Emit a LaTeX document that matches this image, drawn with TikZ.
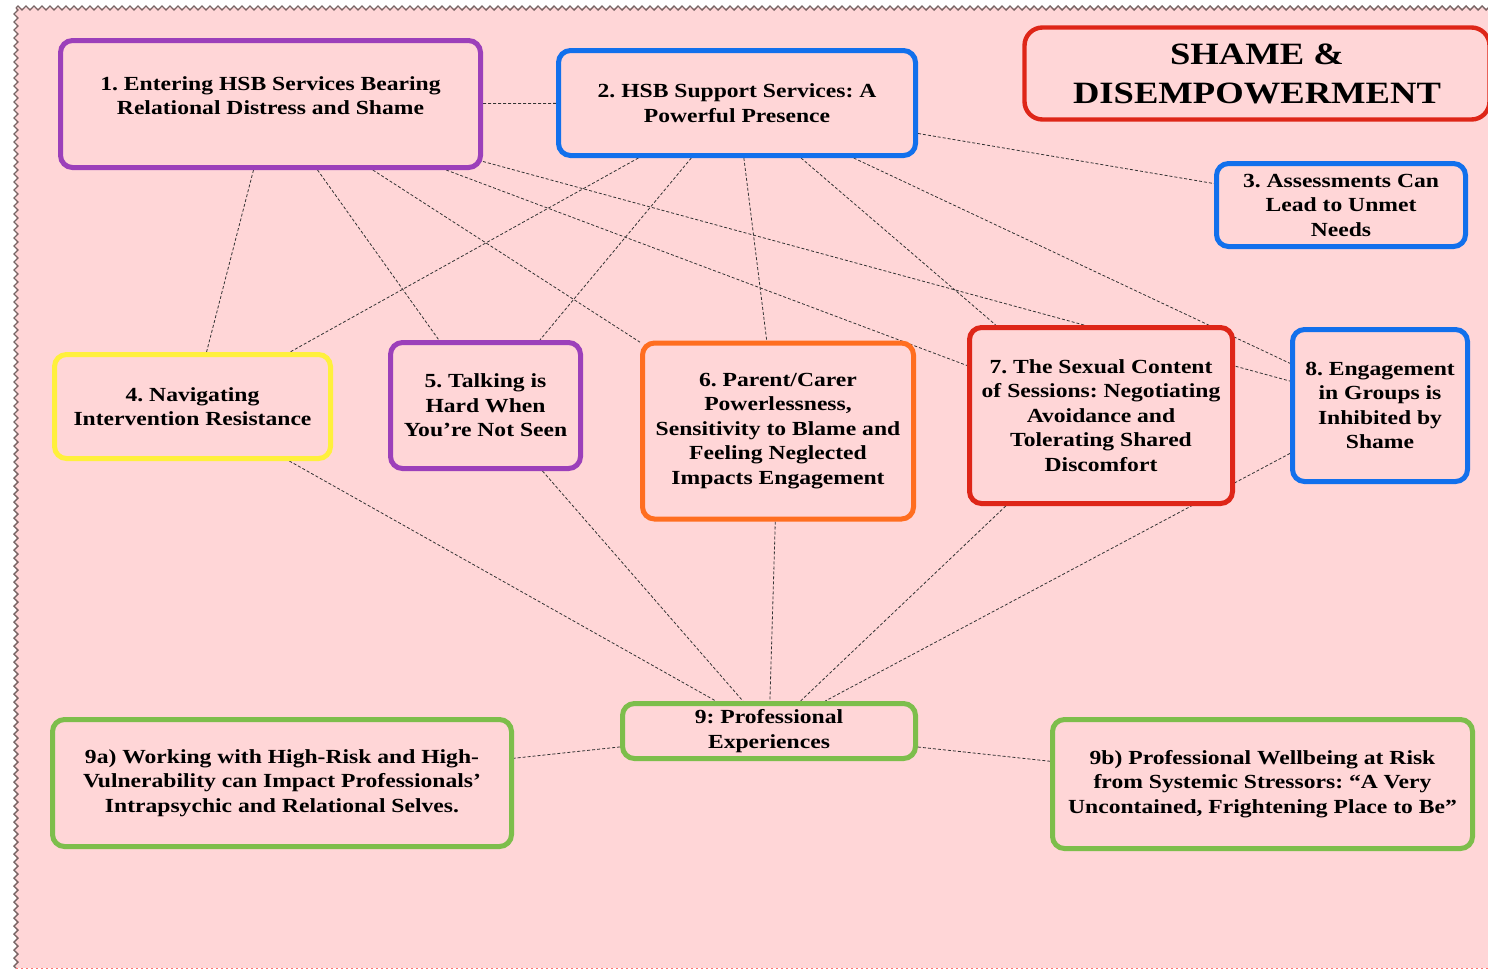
\documentclass[tikz,border=0pt]{standalone}
\usepackage{fontspec}
\setmainfont{Liberation Serif}[FakeStretch=1.18]
\frenchspacing
\usetikzlibrary{decorations.pathmorphing}
\definecolor{bgpink}{RGB}{255,214,215}
\definecolor{thpurple}{RGB}{156,64,186}
\definecolor{thblue}{RGB}{18,112,236}
\definecolor{thyellow}{RGB}{255,240,60}
\definecolor{thorange}{RGB}{255,110,32}
\definecolor{thred}{RGB}{222,38,24}
\definecolor{thgreen}{RGB}{125,190,75}
\definecolor{rimgray}{RGB}{120,100,100}
\pgfdeclarelayer{back}
\pgfdeclarelayer{links}
\pgfsetlayers{back,links,main}
\tikzset{box/.style = {draw, line width=2.5pt, rounded corners=6pt, fill=bgpink, align=center, inner sep=2pt,
                       font=\fontsize{10pt}{12.25pt}\selectfont\bfseries},
         link/.style = {black!80, line width=0.4pt, dash pattern=on 1.5pt off 1pt},
         rim/.style = {rimgray, line width=0.7pt, decorate, decoration={zigzag, amplitude=1pt, segment length=4pt}}}

\begin{document}
\begin{tikzpicture}[x=0.5pt, y=-0.5pt]
  \useasboundingbox (0,0) rectangle (1488,970);
  \begin{pgfonlayer}{back}
    \fill[bgpink] (16,8) rectangle (1500,968);
    \draw[rim] (16,8) -- (1500,8);
    \draw[rim] (16,8) -- (16,968);
    \draw[red!55, line width=0.5pt, dash pattern=on 1pt off 1.5pt] (16,968) -- (1500,968);
  \end{pgfonlayer}

  \node[box, draw=thpurple, minimum width=210pt, minimum height=63.5pt] (th1) at (270.5,104)
    {1. Entering HSB Services Bearing\\ Relational Distress and Shame\\[-4pt]\mbox{}};
  \node[box, draw=thblue, minimum width=178.5pt, minimum height=52.5pt] (th2) at (737,103)
    {2. HSB Support Services: A\\ Powerful Presence};
  \node[box, draw=thblue, minimum width=124.5pt, minimum height=41.5pt] (th3) at (1341,205)
    {3. Assessments Can\\ Lead to Unmet\\ Needs};
  \node[box, draw=thyellow, minimum width=138pt, minimum height=52pt] (th4) at (192.5,406.5)
    {4. Navigating\\ Intervention Resistance};
  \node[box, draw=thpurple, minimum width=95pt, minimum height=63pt] (th5) at (485.5,405.5)
    {5. Talking is\\ Hard When\\ You’re Not Seen};
  \node[box, draw=thorange, minimum width=135.5pt, minimum height=88pt] (th6) at (778,431)
    {6. Parent/Carer\\ Powerlessness,\\ Sensitivity to Blame and\\ Feeling Neglected\\ Impacts Engagement};
  \node[box, draw=thred, minimum width=131.5pt, minimum height=88pt] (th7) at (1101,415.5)
    {7. The Sexual Content\\ of Sessions: Negotiating\\ Avoidance and\\ Tolerating Shared\\ Discomfort};
  \node[box, draw=thblue, minimum width=87.5pt, minimum height=76pt] (th8) at (1380,405.5)
    {8. Engagement\\ in Groups is\\ Inhibited by\\ Shame};
  \node[box, draw=thgreen, minimum width=146.5pt, minimum height=27.5pt] (th9) at (769,731)
    {9: Professional\\ Experiences};
  \node[box, draw=thgreen, minimum width=229.5pt, minimum height=63.5pt] (th9a) at (282,783)
    {9a) Working with High-Risk and High-\\ Vulnerability can Impact Professionals’\\ Intrapsychic and Relational Selves.};
  \node[box, draw=thgreen, minimum width=210pt, minimum height=64.5pt] (th9b) at (1262.5,784)
    {9b) Professional Wellbeing at Risk\\ from Systemic Stressors: “A Very\\ Uncontained, Frightening Place to Be”};

  \node[box, draw=thred, line width=2.2pt, rounded corners=9pt, minimum width=232.5pt, minimum height=46pt,
        font=\fontsize{15.5pt}{19.5pt}\selectfont\bfseries] (title) at (1257,73.5)
    {SHAME \&\\ DISEMPOWERMENT};

  \begin{pgfonlayer}{links}
    \draw[link] (th1) -- (th2);
    \draw[link] (th1) -- (th4);
    \draw[link] (th1) -- (th5);
    \draw[link] (th1) -- (th6);
    \draw[link] (th1) -- (th7);
    \draw[link] (th1) -- (th8);
    \draw[link] (th2) -- (th3);
    \draw[link] (th2) -- (th4);
    \draw[link] (th2) -- (th5);
    \draw[link] (th2) -- (th6);
    \draw[link] (th2) -- (th7);
    \draw[link] (th2) -- (th8);
    \draw[link] (th4) -- (th9);
    \draw[link] (th5) -- (th9);
    \draw[link] (th6) -- (th9);
    \draw[link] (th7) -- (th9);
    \draw[link] (th8) -- (th9);
    \draw[link] (th9) -- (th9a);
    \draw[link] (th9) -- (th9b);
  \end{pgfonlayer}
\end{tikzpicture}
\end{document}
